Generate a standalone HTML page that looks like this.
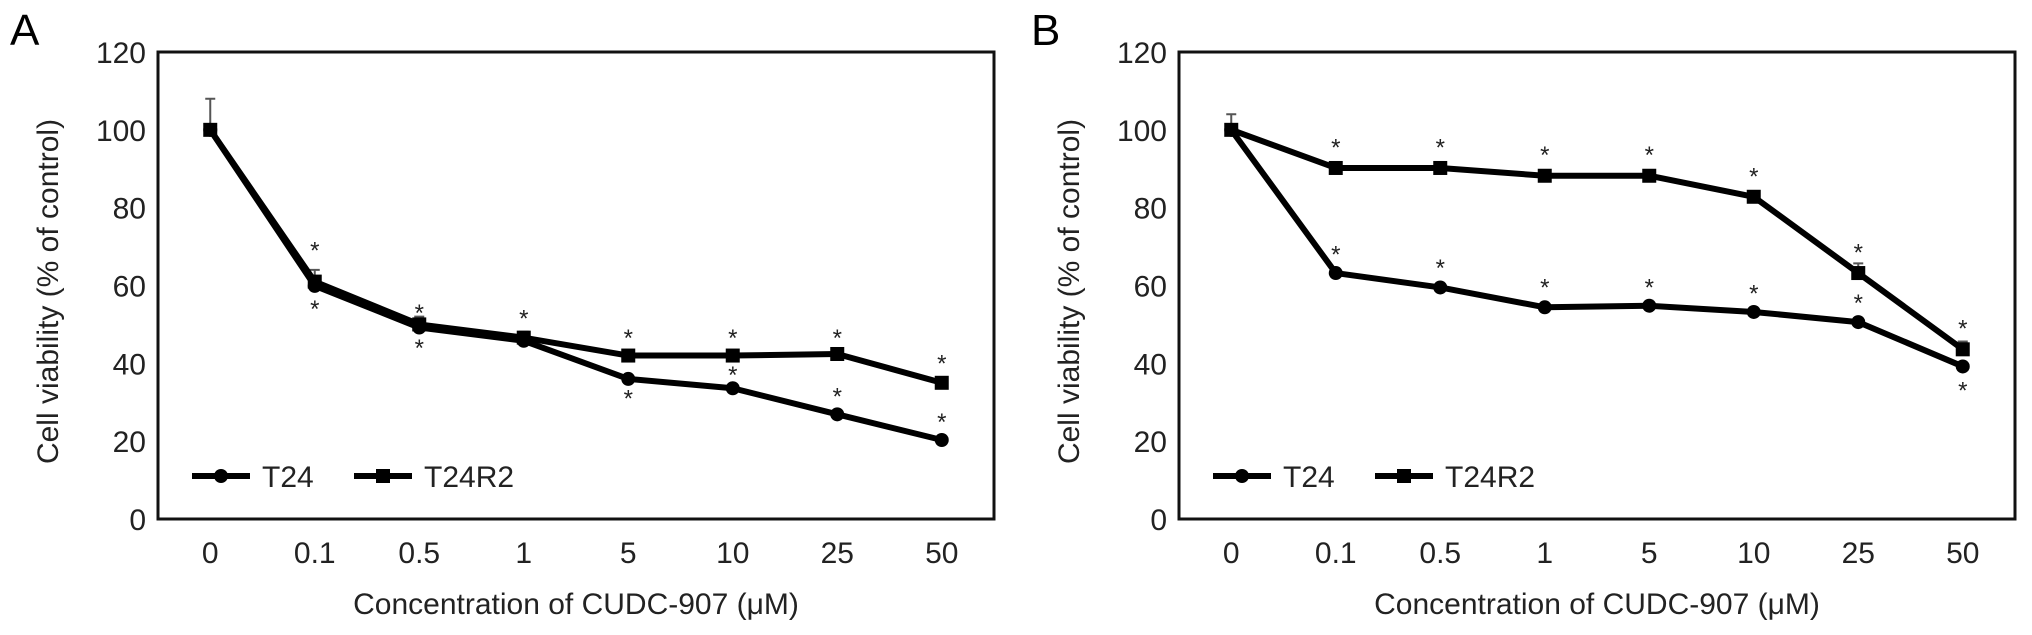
<!DOCTYPE html>
<html><head><meta charset="utf-8"><style>
html,body{margin:0;padding:0;background:#fff;}
svg{display:block;font-family:"Liberation Sans",Arial,sans-serif;}
</style></head><body>
<svg id="c" width="2032" height="635" viewBox="0 0 2032 635" xmlns="http://www.w3.org/2000/svg"></svg>
<script>
const categories = ["0","0.1","0.5","1","5","10","25","50"];
const yTicks = [0,20,40,60,80,100,120];
const aT24 = [100,59.9,49.2,45.8,36.0,33.6,26.9,20.3];
const aT24R2 = [100,61,50,46.6,42,42,42.4,35];
const bT24 = [100,63.2,59.5,54.4,54.8,53.2,50.6,39.2];
const bT24R2 = [100,90.2,90.2,88.2,88.2,82.8,63.2,43.6];
const aErrT24R2 = [8,3,2,1.5,1,1,1,1];
const bErrT24R2 = [4,1,1,1,1,1,2.5,2];
// star positions (value units)
const aStars = [[1,69.5],[1,54.5],[2,53.5],[2,44.5],[3,52],[4,47],[4,31.5],[5,47],[5,37.5],[6,47],[6,32],[7,40.5],[7,25.5]];
const bStars = [[1,96],[1,68.5],[2,96],[2,65],[3,94],[3,60],[4,94],[4,60],[5,88.5],[5,58.5],[6,69],[6,56],[7,49.5],[7,33.5]];

const NS="http://www.w3.org/2000/svg";
const svg=document.getElementById('c');
function mk(tag,attrs,parent){const e=document.createElementNS(NS,tag);for(const k in attrs)e.setAttribute(k,attrs[k]);(parent||svg).appendChild(e);return e;}

function panel(ox,letter,s1,s2,err,stars,key){
  const L=ox, R=ox+836, T=52, B=519;
  const band=(R-L)/categories.length;
  const x=i=>L+band*(i+0.5);
  const y=v=>B-(v/120)*(B-T);
  const g=mk('g',{});
  
  
  const lt=mk('text',{x:ox-148,y:45,'font-size':44},g);lt.textContent=letter;
  
  
  const fr=mk('rect',{x:L,y:T,width:R-L,height:B-T,fill:'none',stroke:'#111','stroke-width':3},g);
  
  
  yTicks.forEach(v=>{const t=mk('text',{x:L-12,y:y(v)+11,'font-size':30,'text-anchor':'end',fill:'#222'},g);t.textContent=v;
    
    });
  categories.forEach((c,i)=>{const t=mk('text',{x:x(i),y:563,'font-size':30,'text-anchor':'middle',fill:'#222'},g);t.textContent=c;
    
    });
  const xt=mk('text',{x:(L+R)/2,y:614,'font-size':30,'text-anchor':'middle',fill:'#222'},g);xt.textContent='Concentration of CUDC-907 (μM)';
  
  
  const yt=mk('text',{x:0,y:0,'font-size':30,'text-anchor':'middle',fill:'#222',transform:`translate(${ox-100},${(T+B)/2+6}) rotate(-90)`},g);yt.textContent='Cell viability (% of control)';
  
  
  // error bars
  err.forEach((e,i)=>{const l=mk('path',{d:`M${x(i)} ${y(s2[i])} V${y(s2[i]+e)} M${x(i)-5} ${y(s2[i]+e)} H${x(i)+5}`,stroke:'#555','stroke-width':2,fill:'none'},g);
    
    });
  const p1=mk('polyline',{points:s1.map((v,i)=>x(i)+','+y(v)).join(' '),fill:'none',stroke:'#000','stroke-width':6,'stroke-linejoin':'round'},g);
  
  
  const p2=mk('polyline',{points:s2.map((v,i)=>x(i)+','+y(v)).join(' '),fill:'none',stroke:'#000','stroke-width':6,'stroke-linejoin':'round'},g);
  
  
  s1.forEach((v,i)=>{const c=mk('circle',{cx:x(i),cy:y(v),r:7,fill:'#000'},g);
    
    });
  s2.forEach((v,i)=>{const r=mk('rect',{x:x(i)-7,y:y(v)-7,width:14,height:14,fill:'#000'},g);
    
    });
  stars.forEach(s=>{const t=mk('text',{x:x(s[0]),y:y(s[1])+10,'font-size':24,'text-anchor':'middle',fill:'#222'},g);t.textContent='*';
    
    });
  // legend
  const lg=mk('g',{},g);
  
  
  const ly=476;
  mk('line',{x1:L+34,y1:ly,x2:L+92,y2:ly,stroke:'#000','stroke-width':6},lg);
  mk('circle',{cx:L+63,cy:ly,r:7,fill:'#000'},lg);
  const t1=mk('text',{x:L+104,y:ly+11,'font-size':30,fill:'#222'},lg);t1.textContent='T24';
  
  
  mk('line',{x1:L+196,y1:ly,x2:L+254,y2:ly,stroke:'#000','stroke-width':6},lg);
  mk('rect',{x:L+218,y:ly-7,width:14,height:14,fill:'#000'},lg);
  const t2=mk('text',{x:L+266,y:ly+11,'font-size':30,fill:'#222'},lg);t2.textContent='T24R2';
  
  
}
panel(158,'A',aT24,aT24R2,aErrT24R2,aStars,'a');
panel(1179,'B',bT24,bT24R2,bErrT24R2,bStars,'b');
</script>
</body></html>
